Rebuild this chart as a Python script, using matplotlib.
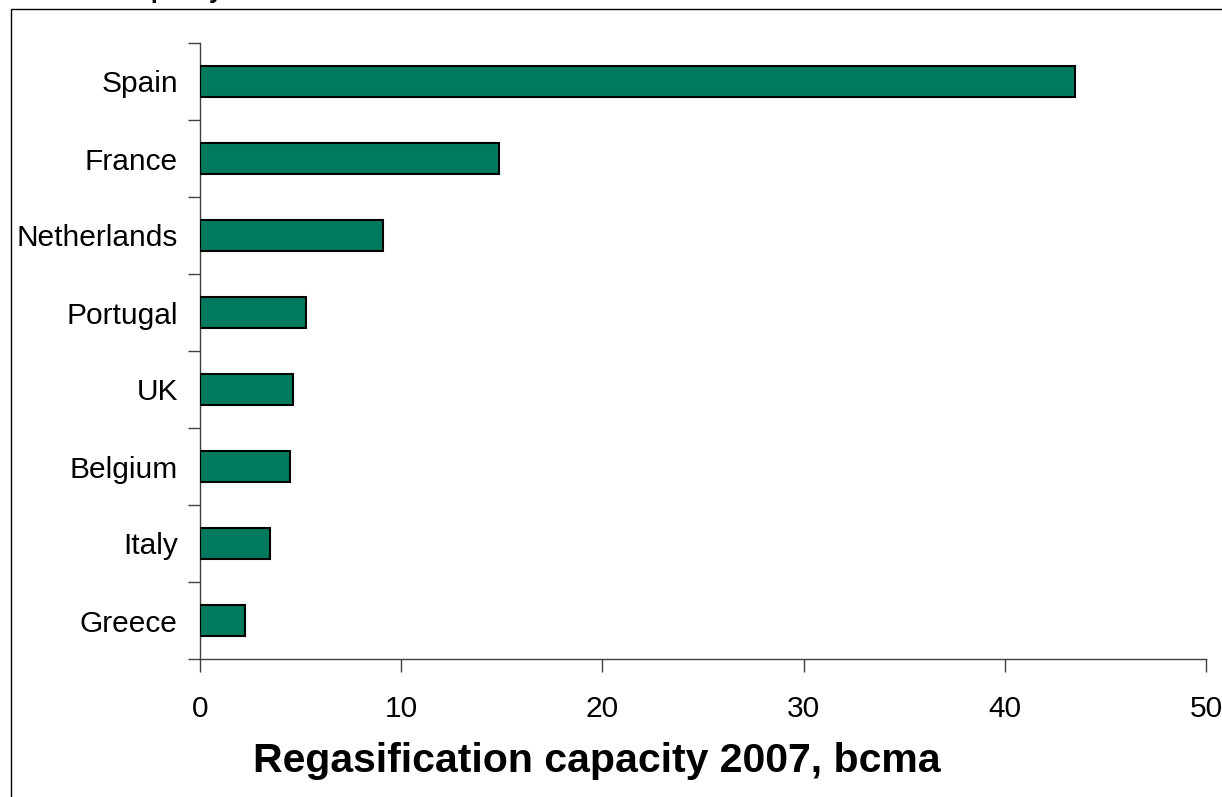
import matplotlib
matplotlib.use("Agg")
import matplotlib.pyplot as plt
import matplotlib.patches as mpatches
import numpy as np

plt.rcParams['font.family'] = ['Liberation Sans', 'DejaVu Sans']

# Regasification capacity by country, bcma (bottom to top)
countries = ["Greece", "Italy", "Belgium", "UK", "Portugal", "Netherlands", "France", "Spain"]
capacity = [2.25, 3.5, 4.47, 4.6, 5.25, 9.1, 14.85, 43.5]
x_ticks = [0, 10, 20, 30, 40, 50]

W, H = 1222, 797
fig = plt.figure(figsize=(W / 100, H / 100), dpi=100)
fig.set_facecolor('white')

# outer frame, running off the right and bottom edges
frame = mpatches.Rectangle((11 / W, -0.05), 1.1, 1 - 9 / H + 0.05,
                           transform=fig.transFigure, fill=False,
                           edgecolor='black', linewidth=1.0)
fig.patches.append(frame)

# clipped heading above the frame
fig.text(119 / W, 1 + 2 / H, "Capacity", fontsize=18, fontweight='bold',
         ha='left', va='baseline')

ax = fig.add_axes([200 / W, 1 - 659 / H, 1006 / W, 616 / H])

pos = np.arange(len(countries))
ax.barh(pos, capacity, height=0.39, color='#007A5E', edgecolor='black',
        linewidth=1.5, zorder=3)

ax.set_xlim(0, 50)
ax.set_ylim(-0.5, len(countries) - 0.5)

ax.set_xticks(x_ticks)
ax.set_xticklabels([str(t) for t in x_ticks], fontsize=21.5)
ax.tick_params(axis='x', direction='out', length=9, width=1, color='#404040', pad=17)

# category boundaries get the tick marks, labels sit at the bar centres
ax.set_yticks(np.arange(-0.5, len(countries), 1.0))
ax.set_yticklabels([])
ax.tick_params(axis='y', which='major', direction='out', length=9, width=1, color='#404040')
ax.set_yticks(pos, minor=True)
ax.set_yticklabels(countries, minor=True, fontsize=21.5)
ax.tick_params(axis='y', which='minor', length=0, pad=16)

for side in ['top', 'right']:
    ax.spines[side].set_visible(False)
for side in ['left', 'bottom']:
    ax.spines[side].set_color('#404040')
    ax.spines[side].set_linewidth(1.0)

fig.text(597 / W, 1 - 772 / H, "Regasification capacity 2007, bcma",
         fontsize=29.5, fontweight='bold', ha='center', va='baseline')

fig.savefig("out.png", dpi=100, facecolor='white')
